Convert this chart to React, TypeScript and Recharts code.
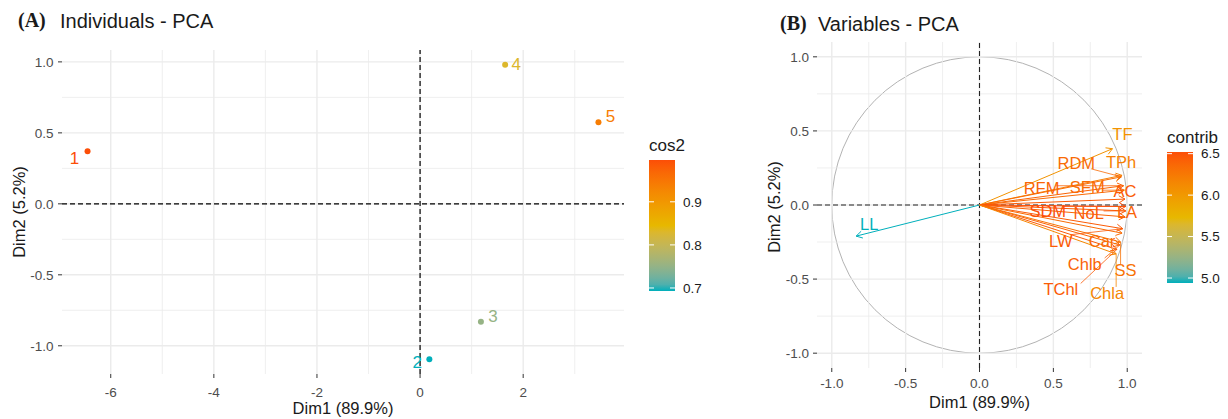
import React from "react";
import { ScatterChart, Scatter, XAxis, YAxis, ReferenceLine, ReferenceArea } from "recharts";

// ---- Individuals (panel A)
const IND_NAMES = ["1", "2", "3", "4", "5"];
const IND_DIM1 = [-6.45, 0.18, 1.18, 1.65, 3.46];
const IND_DIM2 = [0.37, -1.095, -0.83, 0.98, 0.575];
const IND_COS2 = [0.997, 0.693, 0.752, 0.83, 0.94];

// ---- Variables (panel B)
const VAR_NAMES = ["TF", "TPh", "RDM", "RFM", "SFM", "AC", "SDM", "NoL", "LA", "LW", "Car", "Chlb", "SS", "TChl", "Chla", "LL"];
const VAR_DIM1 = [0.9, 0.965, 0.96, 0.975, 0.98, 0.985, 0.99, 0.99, 0.985, 0.97, 0.965, 0.95, 0.955, 0.93, 0.925, -0.835];
const VAR_DIM2 = [0.38, 0.2, 0.19, 0.13, 0.1, 0.04, -0.01, -0.04, -0.08, -0.16, -0.19, -0.27, -0.25, -0.3, -0.33, -0.21];
const VAR_CONTRIB = [6.05, 6.2, 6.35, 6.4, 6.35, 6.45, 6.52, 6.45, 6.4, 6.45, 6.35, 6.4, 6.3, 6.45, 6.15, 4.94];

// ticks / grid
const A_XTICKS = [-6, -4, -2, 0, 2];
const A_XMINOR = [-5, -3, -1, 1, 3];
const A_YTICKS = [-1, -0.5, 0, 0.5, 1];
const A_YMINOR = [-0.75, -0.25, 0.25, 0.75];
const B_TICKS = [-1, -0.5, 0, 0.5, 1];
const B_MINOR = [-0.75, -0.25, 0.25, 0.75];
const B_LIM = 1.1;
const COS2_TICKS = [0.7, 0.8, 0.9];
const CONTRIB_TICKS = [5.0, 5.5, 6.0, 6.5];

// repel-like label nudges (px)
const IND_NUDGE: [number, number][] = [[-13, 7], [-12, 3], [12, -5], [11, 0], [12, -6]];
const VAR_NUDGE: [number, number][] = [
  [10, -15], [-1, -13], [-45, -14], [-82, 2], [-37, -3], [0, -8], [-78, 5], [-37, 2],
  [2, -5], [-62, 12], [-20, 8], [-35, 19], [5, 28], [-56, 40], [-9, 39], [13, -12],
];

const FONT = '"Liberation Sans", Arial, sans-serif';
const GRID = "#EBEBEB";
const TICK_TXT = "#4D4D4D";

// gradient c("#00AFBB", "#E7B800", "#FC4E07") interpolated in Lab like ggplot
const GRAD = ["#00AFBB", "#E7B800", "#FC4E07"];
const toLin = (c: number) => (c <= 0.04045 ? c / 12.92 : Math.pow((c + 0.055) / 1.055, 2.4));
const fromLin = (c: number) => (c <= 0.0031308 ? 12.92 * c : 1.055 * Math.pow(c, 1 / 2.4) - 0.055);
const WN = [0.95047, 1, 1.08883];
function hexToLab(h: string) {
  const [r, g, b] = [1, 3, 5].map((i) => toLin(parseInt(h.slice(i, i + 2), 16) / 255));
  const xyz = [
    (0.4124 * r + 0.3576 * g + 0.1805 * b) / WN[0],
    (0.2126 * r + 0.7152 * g + 0.0722 * b) / WN[1],
    (0.0193 * r + 0.1192 * g + 0.9505 * b) / WN[2],
  ];
  const f = xyz.map((t) => (t > 0.008856 ? Math.cbrt(t) : 7.787 * t + 16 / 116));
  return [116 * f[1] - 16, 500 * (f[0] - f[1]), 200 * (f[1] - f[2])];
}
function labToHex([L, a, bb]: number[]) {
  const fy = (L + 16) / 116, fx = fy + a / 500, fz = fy - bb / 200;
  const inv = (t: number) => (t * t * t > 0.008856 ? t * t * t : (t - 16 / 116) / 7.787);
  const X = inv(fx) * WN[0], Y = inv(fy) * WN[1], Z = inv(fz) * WN[2];
  const rgb = [
    3.2406 * X - 1.5372 * Y - 0.4986 * Z,
    -0.9689 * X + 1.8758 * Y + 0.0415 * Z,
    0.0557 * X - 0.204 * Y + 1.057 * Z,
  ].map((c) => Math.round(Math.min(1, Math.max(0, fromLin(c))) * 255));
  return "#" + rgb.map((c) => c.toString(16).padStart(2, "0")).join("");
}
const GRAD_LAB = GRAD.map(hexToLab);
function gradColor(t: number) {
  const s = Math.min(1, Math.max(0, t)) * 2;
  const i = Math.min(1, Math.floor(s));
  const f = s - i;
  return labToHex(GRAD_LAB[i].map((v, k) => v + (GRAD_LAB[i + 1][k] - v) * f));
}

const cosMin = Math.min(...IND_COS2), cosMax = Math.max(...IND_COS2);
const conMin = Math.min(...VAR_CONTRIB), conMax = Math.max(...VAR_CONTRIB);

const indData = IND_NAMES.map((name, i) => ({
  i, name, x: IND_DIM1[i], y: IND_DIM2[i],
  color: gradColor((IND_COS2[i] - cosMin) / (cosMax - cosMin)),
}));
const varData = VAR_NAMES.map((name, i) => ({
  i, name, x: VAR_DIM1[i], y: VAR_DIM2[i],
  color: gradColor((VAR_CONTRIB[i] - conMin) / (conMax - conMin)),
}));

// ggplot-like 5% expansion
const expand = (v: number[]) => {
  const lo = Math.min(...v), hi = Math.max(...v), e = (hi - lo) * 0.05;
  return [lo - e, hi + e];
};
const A_XDOM = expand(IND_DIM1);
const A_YDOM = expand(IND_DIM2);

const IndPoint = (p: any) => {
  const { cx, cy, payload } = p;
  const [dx, dy] = IND_NUDGE[payload.i];
  return (
    <g>
      <circle cx={cx} cy={cy} r={3} fill={payload.color} />
      <text x={cx + dx} y={cy + dy} textAnchor="middle" dominantBaseline="central" fontSize={17} fill={payload.color}>
        {payload.name}
      </text>
    </g>
  );
};

const VarLabel = (p: any) => {
  const { cx, cy, payload } = p;
  const [dx, dy] = VAR_NUDGE[payload.i];
  const lx = cx + dx, ly = cy + dy;
  const hw = payload.name.length * 0.3 * 16.5, hh = 6;
  const px = Math.min(lx + hw, Math.max(lx - hw, cx));
  const py = Math.min(ly + hh, Math.max(ly - hh, cy));
  const d = Math.hypot(cx - px, cy - py);
  return (
    <g>
      {d > 12 && <line x1={px} y1={py} x2={cx} y2={cy} stroke={payload.color} strokeWidth={0.8} />}
      <text x={lx} y={ly} textAnchor="middle" dominantBaseline="central" fontSize={16.5} fill={payload.color}>
        {payload.name}
      </text>
    </g>
  );
};

const arrowShape = (color: string) => (p: any) => {
  const { x1, y1, x2, y2 } = p;
  const ang = Math.atan2(y2 - y1, x2 - x1);
  const L = 7, a = Math.PI / 6;
  const ax = x2 - L * Math.cos(ang - a), ay = y2 - L * Math.sin(ang - a);
  const bx = x2 - L * Math.cos(ang + a), by = y2 - L * Math.sin(ang + a);
  return (
    <g>
      <line x1={x1} y1={y1} x2={x2} y2={y2} stroke={color} strokeWidth={1} />
      <polyline points={`${ax},${ay} ${x2},${y2} ${bx},${by}`} fill="none" stroke={color} strokeWidth={1} />
    </g>
  );
};

const circleShape = (p: any) => (
  <ellipse cx={p.x + p.width / 2} cy={p.y + p.height / 2} rx={p.width / 2} ry={p.height / 2}
    fill="none" stroke="#B3B3B3" strokeWidth={1} />
);

function PanelA() {
  return (
    <ScatterChart width={640} height={419} margin={{ top: 50, right: 16, bottom: 0, left: 0 }}>
      <XAxis type="number" dataKey="x" domain={A_XDOM} ticks={A_XTICKS} interval={0} allowDataOverflow
        axisLine={false} tickLine={{ stroke: "#333" }} tickSize={4} tickMargin={9} height={45}
        tick={{ fill: TICK_TXT, fontSize: 13.5 }} />
      <YAxis type="number" dataKey="y" domain={A_YDOM} ticks={A_YTICKS} interval={0} allowDataOverflow
        axisLine={false} tickLine={{ stroke: "#333" }} tickSize={4} tickMargin={4.5} width={62}
        tick={{ fill: TICK_TXT, fontSize: 13.5 }} tickFormatter={(v: number) => v.toFixed(1)} />
      {A_XMINOR.map((v) => <ReferenceLine key={"xm" + v} x={v} stroke={GRID} strokeWidth={0.8} />)}
      {A_YMINOR.map((v) => <ReferenceLine key={"ym" + v} y={v} stroke={GRID} strokeWidth={0.8} />)}
      {A_XTICKS.map((v) => <ReferenceLine key={"xM" + v} x={v} stroke={GRID} strokeWidth={1.4} />)}
      {A_YTICKS.map((v) => <ReferenceLine key={"yM" + v} y={v} stroke={GRID} strokeWidth={1.4} />)}
      <ReferenceLine x={0} stroke="#000" strokeWidth={1.2} strokeDasharray="5 3" />
      <ReferenceLine y={0} stroke="#000" strokeWidth={1.2} strokeDasharray="5 3" />
      <Scatter data={indData} isAnimationActive={false} shape={IndPoint} />
    </ScatterChart>
  );
}

function PanelB() {
  return (
    <ScatterChart width={400} height={419} margin={{ top: 42, right: 18, bottom: 0, left: 0 }}>
      <XAxis type="number" dataKey="x" domain={[-B_LIM, B_LIM]} ticks={B_TICKS} interval={0} allowDataOverflow
        axisLine={false} tickLine={{ stroke: "#333" }} tickSize={4} tickMargin={6} height={51}
        tick={{ fill: TICK_TXT, fontSize: 13.5 }} tickFormatter={(v: number) => v.toFixed(1)} />
      <YAxis type="number" dataKey="y" domain={[-B_LIM, B_LIM]} ticks={B_TICKS} interval={0} allowDataOverflow
        axisLine={false} tickLine={{ stroke: "#333" }} tickSize={4} tickMargin={4} width={57}
        tick={{ fill: TICK_TXT, fontSize: 13.5 }} tickFormatter={(v: number) => v.toFixed(1)} />
      {B_MINOR.map((v) => <ReferenceLine key={"xm" + v} x={v} stroke={GRID} strokeWidth={0.8} />)}
      {B_MINOR.map((v) => <ReferenceLine key={"ym" + v} y={v} stroke={GRID} strokeWidth={0.8} />)}
      {B_TICKS.map((v) => <ReferenceLine key={"xM" + v} x={v} stroke={GRID} strokeWidth={1.4} />)}
      {B_TICKS.map((v) => <ReferenceLine key={"yM" + v} y={v} stroke={GRID} strokeWidth={1.4} />)}
      <ReferenceArea x1={-1} x2={1} y1={-1} y2={1} shape={circleShape} />
      <ReferenceLine x={0} stroke="#222" strokeWidth={1.1} strokeDasharray="5 3" />
      <ReferenceLine y={0} stroke="#222" strokeWidth={1.1} strokeDasharray="5 3" />
      {varData.map((d) => (
        <ReferenceLine key={"arr" + d.name} segment={[{ x: 0, y: 0 }, { x: d.x, y: d.y }]} ifOverflow="visible"
          shape={arrowShape(d.color)} />
      ))}
      <Scatter data={varData} isAnimationActive={false} shape={VarLabel} />
    </ScatterChart>
  );
}

function ColorBar({ id, x, top, min, max, ticks, title, titleY, fmt }: any) {
  const H = 131, W = 26;
  const stops = Array.from({ length: 21 }, (_, k) => k / 20);
  const yOf = (v: number) => top + ((max - v) / (max - min)) * H;
  return (
    <g>
      <defs>
        <linearGradient id={id} x1="0" y1="0" x2="0" y2="1">
          {stops.map((s) => <stop key={s} offset={s} stopColor={gradColor(1 - s)} />)}
        </linearGradient>
      </defs>
      <text x={x} y={titleY} fontSize={17} fill="#1A1A1A">{title}</text>
      <rect x={x} y={top} width={W} height={H} fill={`url(#${id})`} />
      {ticks.map((v: number) => (
        <g key={v}>
          <line x1={x} x2={x + 5} y1={yOf(v)} y2={yOf(v)} stroke="#fff" strokeWidth={1} />
          <line x1={x + W - 5} x2={x + W} y1={yOf(v)} y2={yOf(v)} stroke="#fff" strokeWidth={1} />
          <text x={x + W + 8} y={yOf(v) + 4.8} fontSize={13.5} fill="#1A1A1A">{fmt(v)}</text>
        </g>
      ))}
    </g>
  );
}

export default function App() {
  return (
    <div style={{ position: "absolute", left: 0, top: 0, width: 1228, height: 419, background: "#fff", fontFamily: FONT }}>
      <div style={{ position: "absolute", left: 0, top: 0 }}><PanelA /></div>
      <div style={{ position: "absolute", left: 760, top: 0 }}><PanelB /></div>
      <svg width={1228} height={419} style={{ position: "absolute", left: 0, top: 0, pointerEvents: "none" }}>
        {/* titles */}
        <text x={18} y={26.5} fontFamily='"Liberation Serif", serif' fontWeight="bold" fontSize={20} fill="#1A1A1A">(A)</text>
        <text x={60} y={27.5} fontSize={20} fill="#1A1A1A">Individuals - PCA</text>
        <text x={780} y={29.5} fontFamily='"Liberation Serif", serif' fontWeight="bold" fontSize={20} fill="#1A1A1A">(B)</text>
        <text x={818} y={30.5} fontSize={20} fill="#1A1A1A">Variables - PCA</text>
        {/* axis titles */}
        <text x={343} y={414} textAnchor="middle" fontSize={16.5} fill="#1A1A1A">Dim1 (89.9%)</text>
        <text x={979.5} y={408} textAnchor="middle" fontSize={16.5} fill="#1A1A1A">Dim1 (89.9%)</text>
        <text transform="translate(25,212) rotate(-90)" textAnchor="middle" fontSize={16.5} fill="#1A1A1A">Dim2 (5.2%)</text>
        <text transform="translate(780,207) rotate(-90)" textAnchor="middle" fontSize={16.5} fill="#1A1A1A">Dim2 (5.2%)</text>
        {/* legends */}
        <ColorBar id="gA" x={649} top={160} min={cosMin} max={cosMax} ticks={COS2_TICKS}
          title="cos2" titleY={150.5} fmt={(v: number) => v.toFixed(1)} />
        <ColorBar id="gB" x={1167} top={152} min={conMin} max={conMax} ticks={CONTRIB_TICKS}
          title="contrib" titleY={143.3} fmt={(v: number) => v.toFixed(1)} />
      </svg>
    </div>
  );
}
